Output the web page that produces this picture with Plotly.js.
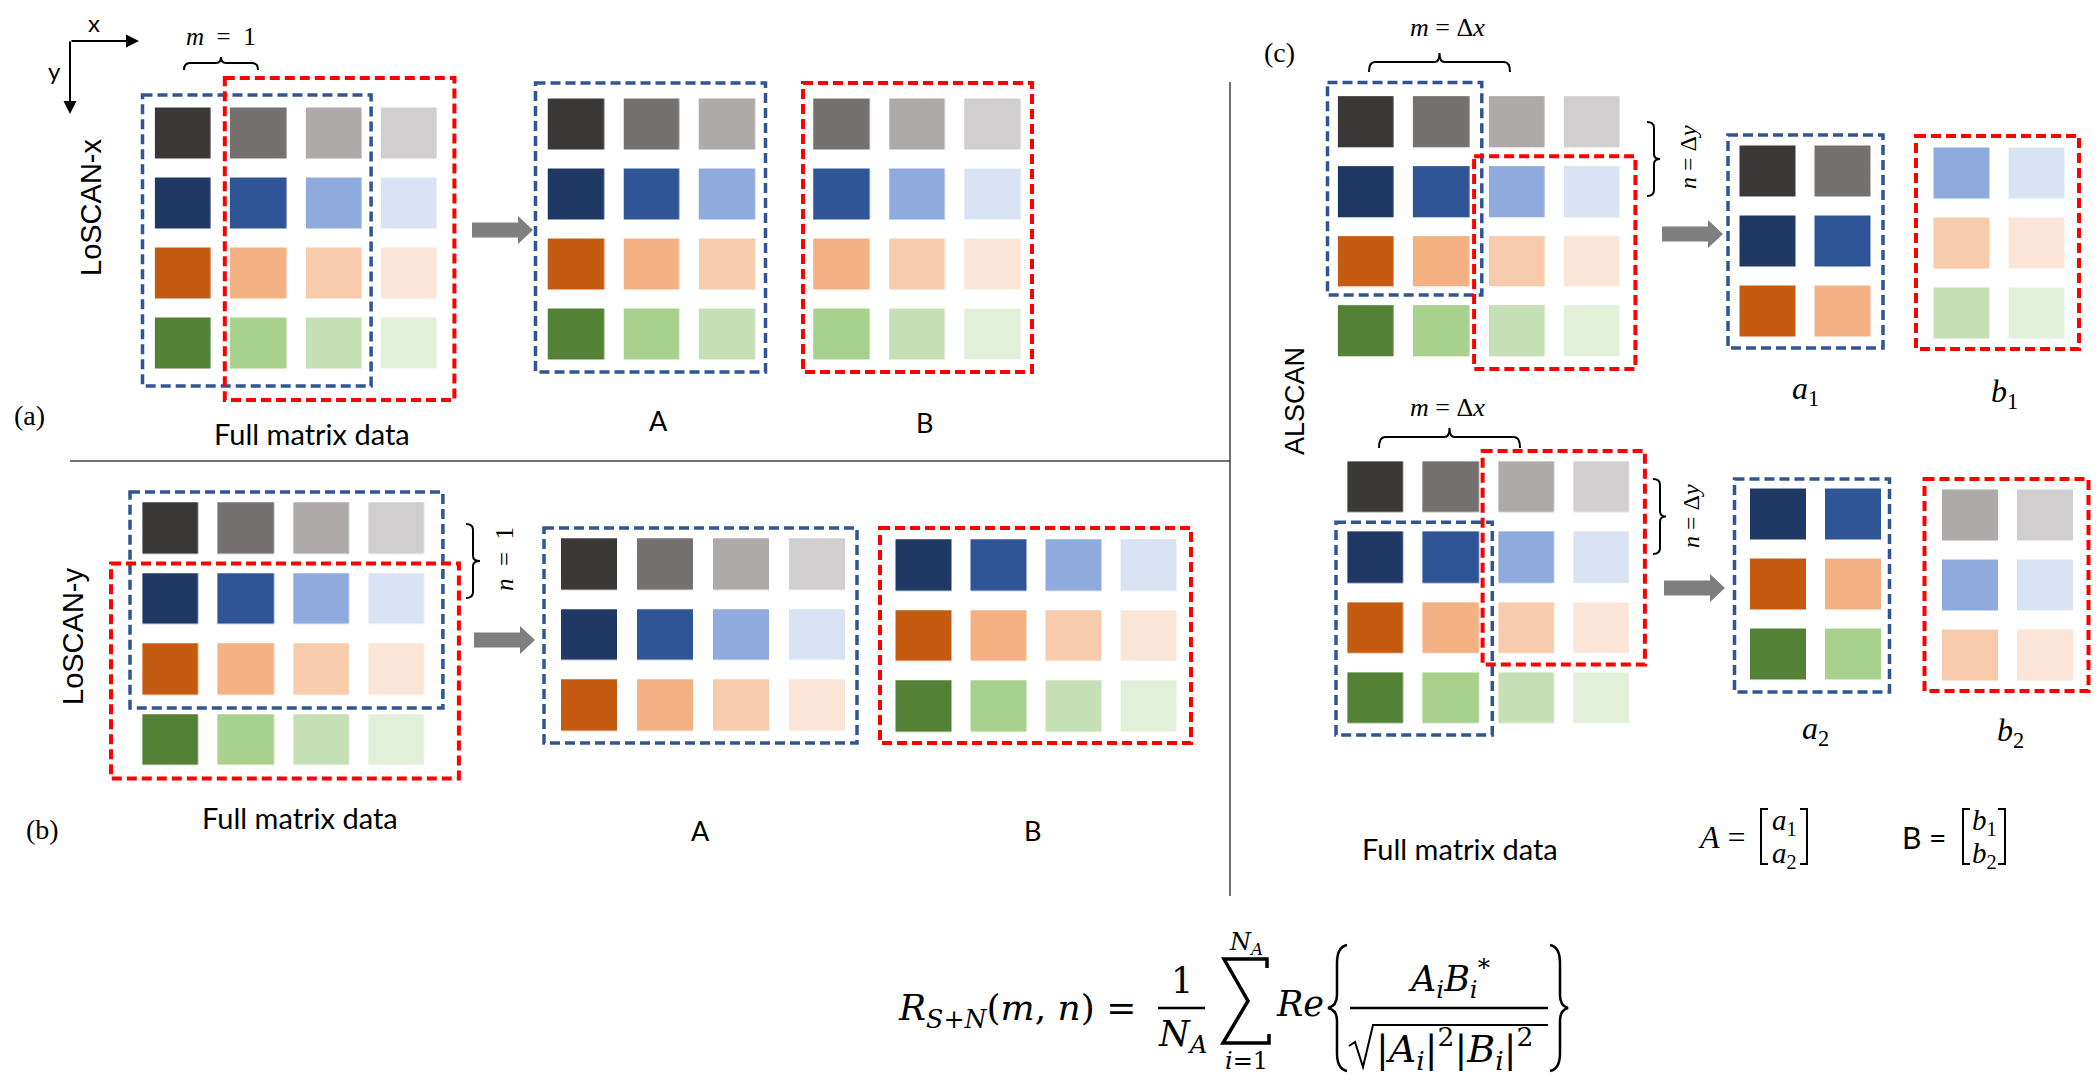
<!DOCTYPE html>
<html><head><meta charset="utf-8">
<script src="https://cdn.plot.ly/plotly-3.0.1.min.js"></script>
<style>html,body{margin:0;padding:0;background:#fff;overflow:hidden;} #chart{width:2100px;height:1091px;}</style>
</head><body><div id="chart"></div>
<script>
// ---------------- data ----------------
const shadeGray   = ['#3B3838','#767171','#AEAAAA','#D0CECE'];
const shadeBlue   = ['#1F3864','#2F5597','#8FAADC','#DAE3F3'];
const shadeOrange = ['#C55A11','#F4B183','#F8CBAD','#FBE5D6'];
const shadeGreen  = ['#538135','#A9D18E','#C5E0B4','#E2F0D9'];
// colour index of each cell of the full 4x4 matrix (row = colour family, column = shade)
const fullMatrix = [[0,1,2,3],[4,5,6,7],[8,9,10,11],[12,13,14,15]];
const rowsAll = [0,1,2,3], rowsTop = [0,1,2], rowsBottom = [1,2,3];
const colsLeft3 = [0,1,2], colsRight3 = [1,2,3], colsLeft2 = [0,1], colsRight2 = [2,3];

// ---------------- helpers ----------------
const W = 2100, H = 1091;
const CELL_W = 56, CELL_H = 51;
const palette = [].concat(shadeGray, shadeBlue, shadeOrange, shadeGreen);
const NC = palette.length;
const colorscale = [];
palette.forEach((c, i) => { colorscale.push([i / NC, c]); colorscale.push([(i + 1) / NC, c]); });
function sub(rows, cols) { return rows.map(r => cols.map(c => fullMatrix[r][c])); }

// matrices: z from data, placement (layout) separately
const M = {
  fullA: {z: fullMatrix,                 cx: 183.5,  cy: 133.5, px: 75.3, py: 70},
  Aa:    {z: sub(rowsAll, colsLeft3),     cx: 576.5,  cy: 124.5, px: 75.5, py: 70},
  Ba:    {z: sub(rowsAll, colsRight3),    cx: 842,    cy: 124.5, px: 75.5, py: 70},
  fullB: {z: fullMatrix,                 cx: 171,    cy: 528.5, px: 75.3, py: 70.5},
  Ab:    {z: sub(rowsTop, rowsAll),       cx: 589,    cy: 564.5, px: 76,   py: 70.5},
  Bb:    {z: sub(rowsBottom, rowsAll),    cx: 924,    cy: 565.5, px: 75,   py: 70.5},
  fullC1:{z: fullMatrix,                 cx: 1366.5, cy: 122,   px: 75.3, py: 69.8},
  a1:    {z: sub(rowsTop, colsLeft2),     cx: 1768,   cy: 171.5, px: 75,   py: 70},
  b1:    {z: sub(rowsBottom, colsRight2), cx: 1962,   cy: 173.5, px: 75,   py: 70},
  fullC2:{z: fullMatrix,                 cx: 1376,   cy: 487.5, px: 75.3, py: 70.3},
  a2:    {z: sub(rowsBottom, colsLeft2),  cx: 1778.5, cy: 514.5, px: 75,   py: 70},
  b2:    {z: sub(rowsTop, colsRight2),    cx: 1970.5, cy: 515.5, px: 75,   py: 70}
};

const traces = Object.keys(M).map(k => {
  const m = M[k];
  return {type: 'heatmap', z: m.z, x0: m.cx, dx: m.px, y0: m.cy, dy: m.py,
    xgap: m.px - CELL_W, ygap: m.py - CELL_H, zmin: -0.5, zmax: NC - 0.5,
    colorscale: colorscale, showscale: false, hoverinfo: 'skip'};
});

const BLUE = '#2F5597', RED = '#FF0000';
function box(key, r0, r1, c0, c1, pad, color) {
  const m = M[key];
  return {type: 'rect', xref: 'x', yref: 'y', layer: 'above',
    x0: m.cx + c0 * m.px - CELL_W / 2 - pad[0], x1: m.cx + c1 * m.px + CELL_W / 2 + pad[2],
    y0: m.cy + r0 * m.py - CELL_H / 2 - pad[1], y1: m.cy + r1 * m.py + CELL_H / 2 + pad[3],
    line: {color: color, width: color === RED ? 4 : 3.5, dash: '10px,5px'}, fillcolor: 'rgba(0,0,0,0)'};
}
const shapes = [
  box('fullA', 0, 3, 0, 2, [13, 13, 9, 17], BLUE),
  box('fullA', 0, 3, 1, 3, [6, 30, 17, 31], RED),
  box('Aa', 0, 3, 0, 2, [13, 16, 10, 12], BLUE),
  box('Ba', 0, 3, 0, 2, [11, 16, 11, 12], RED),
  box('fullB', 0, 2, 0, 3, [13, 11, 18, 13], BLUE),
  box('fullB', 1, 3, 0, 3, [32, 10, 34, 13], RED),
  box('Ab', 0, 2, 0, 3, [17, 11, 12, 12], BLUE),
  box('Bb', 0, 2, 0, 3, [16, 12, 14, 11], RED),
  box('fullC1', 0, 2, 0, 1, [11, 14, 12, 8], BLUE),
  box('fullC1', 1, 3, 2, 3, [15, 10, 15, 12], RED),
  box('a1', 0, 2, 0, 1, [12, 11, 12, 11], BLUE),
  box('b1', 0, 2, 0, 1, [18, 12, 14, 10], RED),
  box('fullC2', 0, 2, 2, 3, [16, 11, 15, 11], RED),
  box('fullC2', 1, 3, 0, 1, [12, 10, 13, 11], BLUE),
  box('a2', 0, 2, 0, 1, [16, 10, 8, 12], BLUE),
  box('b2', 0, 2, 0, 1, [18, 11, 15, 10], RED)
];
function pathShape(d, width, color, fill) {
  return {type: 'path', xref: 'x', yref: 'y', path: d, layer: 'above',
    line: {color: color || '#000', width: width}, fillcolor: fill || 'rgba(0,0,0,0)'};
}
function blockArrow(x0, cy) {
  const L = 61, head = 15, bh = 7.5, hh = 14;
  const d = `M${x0},${cy - bh} L${x0 + L - head},${cy - bh} L${x0 + L - head},${cy - hh} L${x0 + L},${cy} ` +
            `L${x0 + L - head},${cy + hh} L${x0 + L - head},${cy + bh} L${x0},${cy + bh} Z`;
  return pathShape(d, 0, '#7F7F7F', '#7F7F7F');
}
function hBrace(x0, x1, yLeg, yBar, yTip) {
  const xc = (x0 + x1) / 2;
  return pathShape(`M${x0},${yLeg} Q${x0},${yBar} ${x0 + 6},${yBar} L${xc - 5},${yBar} Q${xc},${yBar} ${xc},${yTip} ` +
    `Q${xc},${yBar} ${xc + 5},${yBar} L${x1 - 6},${yBar} Q${x1},${yBar} ${x1},${yLeg}`, 2);
}
function vBrace(xLeg, xBar, xTip, y0, y1) {
  const yc = (y0 + y1) / 2;
  return pathShape(`M${xLeg},${y0} Q${xBar},${y0} ${xBar},${y0 + 6} L${xBar},${yc - 5} Q${xBar},${yc} ${xTip},${yc} ` +
    `Q${xBar},${yc} ${xBar},${yc + 5} L${xBar},${y1 - 6} Q${xBar},${y1} ${xLeg},${y1}`, 2);
}
shapes.push(blockArrow(472, 230), blockArrow(474, 640), blockArrow(1662, 234), blockArrow(1664, 588));
shapes.push(hBrace(184, 258, 70, 63, 57), hBrace(1369, 1510, 72, 62, 53), hBrace(1379, 1520, 448, 437, 428));
shapes.push(vBrace(466, 473, 480, 524, 598), vBrace(1647, 1654, 1660, 122, 196), vBrace(1653, 1660, 1666, 479, 554));
// dividers
shapes.push({type: 'line', xref: 'x', yref: 'y', x0: 70, x1: 1230, y0: 461, y1: 461, line: {color: '#404040', width: 1.5}});
shapes.push({type: 'line', xref: 'x', yref: 'y', x0: 1230, x1: 1230, y0: 82, y1: 896, line: {color: '#404040', width: 1.5}});
// matrix brackets for A=[a1;a2], B=[b1;b2]
shapes.push(pathShape('M1768,809 L1761,809 L1761,864 L1768,864', 2));
shapes.push(pathShape('M1800,809 L1807,809 L1807,864 L1800,864', 2));
shapes.push(pathShape('M1970,809 L1963,809 L1963,864 L1970,864', 2));
shapes.push(pathShape('M1998,809 L2005,809 L2005,864 L1998,864', 2));
// formula pieces
shapes.push({type: 'line', xref: 'x', yref: 'y', x0: 1158, x1: 1205, y0: 1008, y1: 1008, line: {color: '#000', width: 2.5}});
shapes.push({type: 'line', xref: 'x', yref: 'y', x0: 1350, x1: 1548, y0: 1008, y1: 1008, line: {color: '#000', width: 2.5}});
shapes.push(pathShape('M1267,968 L1267,959 L1224,959 L1248,1001 L1223,1043 L1269,1043 L1269,1034', 3.5));
shapes.push(pathShape('M1349,1046 L1355,1042 L1363,1067 L1373,1025 L1548,1025', 2));
shapes.push(pathShape('M1347,945 Q1337,947 1337,963 L1337,995 Q1337,1006 1328,1008 Q1337,1010 1337,1021 L1337,1053 Q1337,1069 1347,1071', 2.5));
shapes.push(pathShape('M1550,945 Q1560,947 1560,963 L1560,995 Q1560,1006 1568,1008 Q1560,1010 1560,1021 L1560,1053 Q1560,1069 1550,1071', 2.5));

// ---------------- text ----------------
const SANS = 'Lato, "Liberation Sans", sans-serif';
const ARIAL = '"Liberation Sans", Arial, sans-serif';
const SERIF = '"Liberation Serif", "Times New Roman", serif';
const MATH = '"DejaVu Serif", "Liberation Serif", serif';
function T(x, y, text, size, family, extra) {
  return Object.assign({x: x, y: y, xref: 'x', yref: 'y', text: text, showarrow: false,
    font: {size: size, family: family, color: '#000'}}, extra || {});
}
const annotations = [
  T(94, 22, 'x', 24, SANS), T(54, 70, 'y', 24, SANS),
  T(221, 36, '<i>m</i>\u2002=\u20021', 25, SERIF),
  T(91, 208, 'LoSCAN-x', 29, ARIAL, {textangle: -90}),
  T(29, 415, '(a)', 28, SERIF),
  T(312, 433, 'Full matrix data', 29, SANS),
  T(658, 420, 'A', 27, SANS), T(924, 422, 'B', 27, SANS),
  T(73, 637, 'LoSCAN-y', 29, ARIAL, {textangle: -90}),
  T(504, 559, '<i>n</i>\u2002=\u20021', 25, SERIF, {textangle: -90}),
  T(42, 829, '(b)', 28, SERIF),
  T(300, 817, 'Full matrix data', 29, SANS),
  T(700, 830, 'A', 27, SANS), T(1032, 830, 'B', 27, SANS),
  T(1279, 52, '(c)', 28, SERIF),
  T(1447, 27, '<i>m</i> = Δ<i>x</i>', 26, SERIF),
  T(1447, 407, '<i>m</i> = Δ<i>x</i>', 26, SERIF),
  T(1688, 157, '<i>n</i> = Δ<i>y</i>', 24, SERIF, {textangle: -90}),
  T(1691, 516, '<i>n</i> = Δ<i>y</i>', 24, SERIF, {textangle: -90}),
  T(1295, 401, 'ALSCAN', 27, ARIAL, {textangle: -90}),
  T(1805, 390, '<i>a</i><sub>1</sub>', 32, SERIF), T(2004, 393, '<i>b</i><sub>1</sub>', 32, SERIF),
  T(1815, 730, '<i>a</i><sub>2</sub>', 32, SERIF), T(2010, 732, '<i>b</i><sub>2</sub>', 32, SERIF),
  T(1460, 848, 'Full matrix data', 29, SANS),
  T(1748, 837, '<i>A</i> =', 32, SERIF, {xanchor: 'right'}),
  T(1784, 822, '<i>a</i><sub>1</sub>', 29, SERIF), T(1784, 855, '<i>a</i><sub>2</sub>', 29, SERIF),
  T(1948, 837, 'B =', 30, SANS, {xanchor: 'right'}),
  T(1984, 822, '<i>b</i><sub>1</sub>', 29, SERIF), T(1984, 855, '<i>b</i><sub>2</sub>', 29, SERIF),
  // formula
  T(1138, 1010, '<i>R</i><sub><i>S</i>+<i>N</i></sub>(<i>m</i>, <i>n</i>) =', 36, MATH, {xanchor: 'right'}),
  T(1182, 981, '1', 35, MATH), T(1182, 1036, '<i>N</i><sub><i>A</i></sub>', 35, MATH),
  T(1246, 943, '<i>N</i><sub><i>A</i></sub>', 24, MATH), T(1246, 1061, '<i>i</i>=1', 24, MATH),
  T(1300, 1004, '<i>Re</i>', 35, MATH),
  T(1449, 978, '<i>A</i><sub><i>i</i></sub><i>B</i><sub><i>i</i></sub><sup>*</sup>', 35, MATH),
  T(1374, 1048, '|<i>A</i><sub><i>i</i></sub>|<sup>2</sup>|<i>B</i><sub><i>i</i></sub>|<sup>2</sup>', 38, MATH, {xanchor: 'left'})
];
// axis indicator arrows
annotations.push({x: 139, y: 41, ax: 70, ay: 41, xref: 'x', yref: 'y', axref: 'x', ayref: 'y', text: '',
  showarrow: true, arrowhead: 2, arrowsize: 1.3, arrowwidth: 2, arrowcolor: '#000', standoff: 0});
annotations.push({x: 70, y: 114, ax: 70, ay: 40, xref: 'x', yref: 'y', axref: 'x', ayref: 'y', text: '',
  showarrow: true, arrowhead: 2, arrowsize: 1.3, arrowwidth: 2, arrowcolor: '#000', standoff: 0});

const layout = {
  width: W, height: H, margin: {l: 0, r: 0, t: 0, b: 0},
  paper_bgcolor: '#fff', plot_bgcolor: '#fff', showlegend: false,
  xaxis: {range: [0, W], visible: false, fixedrange: true},
  yaxis: {range: [H, 0], visible: false, fixedrange: true},
  shapes: shapes, annotations: annotations
};
Plotly.newPlot('chart', traces, layout, {staticPlot: true, displayModeBar: false});
</script></body></html>
